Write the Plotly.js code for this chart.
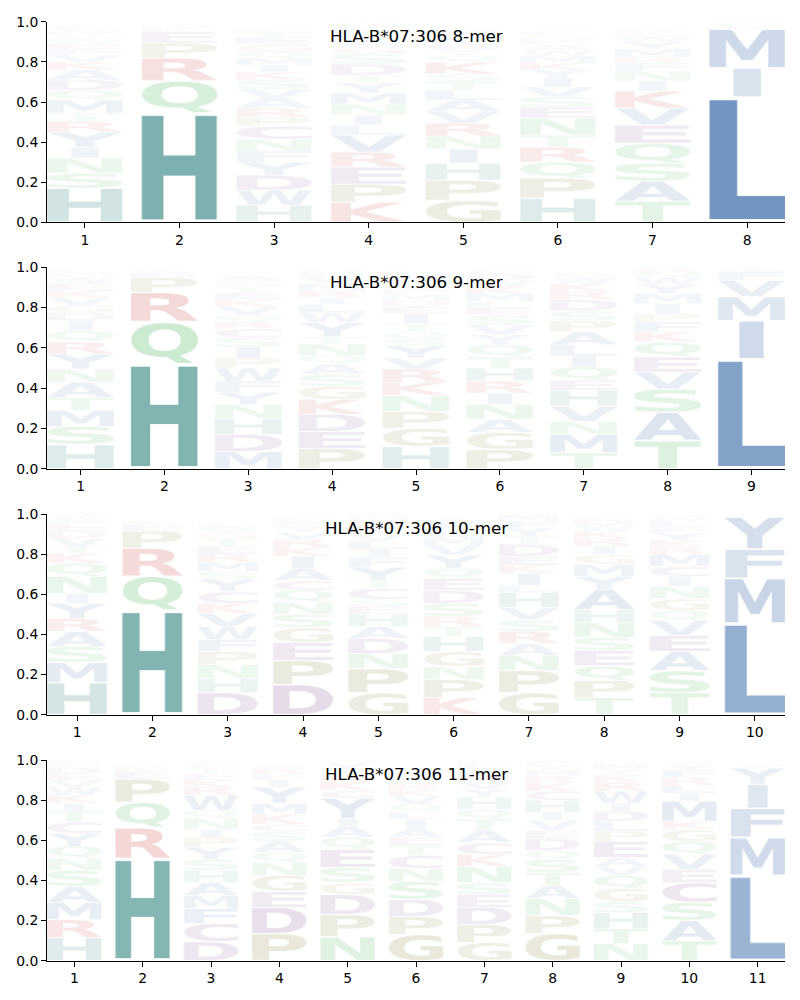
<!DOCTYPE html>
<html>
<head>
<meta charset="utf-8">
<script src="https://cdn.plot.ly/plotly-3.0.1.min.js"></script>
<style>
  body { margin: 0; background: #fff; }
  #logo { width: 800px; height: 1000px; }
</style>
</head>
<body>
<div id="logo"></div>
<script>
// letters of each column, bottom to top, with their heights
const letters8 = ["HSNIYRTMQDAKVFEWGPCL", "HQRPEKDS", "HWDYFNCPRAVSKIMQGETL", "KPERVLINMYTDSGAFQCHW",
                  "GPHINRVALTSKQYEMDFWC", "HPQRTNESVIYKMWAFDGC", "TASQEVKINFRMYWDG", "LIMVF"];
const heights8 = [
  [.17,.075,.075,.055,.075,.055,.04,.065,.05,.05,.05,.04,.035,.03,.025,.025,.02,.02,.015,.015],
  [.545,.16,.115,.075,.055,.02,.015,.01],
  [.085,.075,.075,.065,.055,.06,.065,.045,.045,.05,.045,.045,.04,.035,.035,.03,.04,.035,.025,.02],
  [.10,.09,.085,.075,.085,.05,.05,.055,.055,.05,.04,.055,.05,.035,.03,.025,.025,.02,.015,.01],
  [.11,.10,.085,.07,.065,.065,.06,.055,.05,.045,.035,.06,.035,.03,.025,.025,.02,.02,.015,.01],
  [.12,.10,.08,.075,.06,.085,.055,.05,.05,.045,.04,.035,.035,.03,.025,.02,.015,.015,.02],
  [.105,.10,.09,.10,.09,.085,.085,.05,.05,.04,.03,.04,.035,.025,.02,.02],
  [.625,.145,.195,.02,.015]
];

const letters9 = ["HSMTANYRQIDGVKEWCL", "HQRPEK", "MDHNYFWPISCRQVKETGA", "PEDKGSAQNTYWLIRMVFH",
                  "HGPNKRVYSQTIEDMFCWAL", "PGANIRHTQYVSELMKWDC", "TMNVHEQILAPSDRKWG", "TASVEQKFPIMYWNR", "LIMVFY"];
const heights9 = [
  [.12,.09,.08,.065,.075,.065,.075,.06,.055,.05,.04,.035,.04,.035,.035,.03,.02,.02],
  [.52,.21,.145,.075,.025,.015],
  [.085,.085,.08,.07,.06,.055,.065,.05,.055,.045,.045,.035,.035,.04,.035,.035,.03,.03,.025],
  [.1,.085,.085,.075,.065,.06,.05,.04,.06,.035,.07,.05,.04,.035,.035,.035,.03,.025,.015],
  [.11,.09,.085,.08,.065,.065,.055,.06,.035,.035,.04,.05,.035,.03,.03,.025,.02,.015,.03,.025],
  [.095,.085,.065,.075,.055,.06,.065,.055,.06,.05,.05,.05,.035,.03,.04,.035,.03,.03,.02],
  [.08,.09,.065,.075,.08,.05,.065,.055,.055,.065,.055,.05,.055,.04,.04,.03,.025],
  [.14,.14,.115,.085,.075,.075,.05,.05,.04,.05,.05,.045,.035,.025,.02],
  [.545,.19,.12,.08,.045,.02]
];

const letters10 = ["HMSARYINQKTVDEFWG", "HQRPEK", "DHNPFWVKCYSMRETGQL", "DPEGSNQCAIKRVYMF", "GPNDAHESCTYFILVKRWM",
                   "KPNGHTRSDEQYVMLFWI", "GPNARSVHLIKEDTYFMQ", "TPQESNHAYMGIRKWDF", "TSAEVQGNICMRKYFLWD", "LMFY"];
const heights10 = [
  [.16,.1,.08,.075,.065,.075,.05,.085,.065,.05,.035,.04,.035,.03,.025,.02,.015],
  [.52,.17,.14,.085,.03,.02],
  [.11,.07,.07,.065,.06,.065,.065,.05,.06,.06,.04,.045,.04,.04,.035,.03,.03,.02],
  [.15,.12,.09,.075,.065,.06,.06,.05,.06,.06,.045,.04,.035,.03,.025,.02],
  [.11,.12,.075,.075,.06,.06,.04,.035,.055,.04,.065,.05,.04,.04,.035,.035,.03,.02,.015],
  [.085,.09,.065,.075,.075,.05,.05,.065,.065,.06,.05,.065,.05,.04,.035,.03,.02,.015],
  [.11,.11,.075,.06,.06,.06,.06,.075,.035,.06,.04,.045,.06,.04,.04,.035,.03,.015],
  [.085,.085,.075,.075,.065,.075,.065,.1,.065,.06,.05,.04,.04,.035,.03,.025,.02],
  [.11,.11,.095,.08,.075,.05,.06,.06,.05,.05,.06,.035,.035,.035,.03,.03,.02,.015],
  [.455,.225,.145,.16]
];

const letters11 = ["HRMASNQYCTIKWVEDFL", "HRQPEKD", "DCFMAHSYPINQWRKETGV", "PDEGNQASCKMYIFRW", "NPDGSEQAIYCKRTVW",
                   "GPDSNCTEAILQVKRMYF", "GPDESNKCATQHYVRMLF", "GPNATSQDEVIHCKRMYF", "NTHSGQVAEPLDIWRKYM",
                   "TASCEVQGKMILRFYW", "LMFIYV"];
const heights11 = [
  [.115,.09,.085,.08,.08,.06,.06,.065,.055,.055,.04,.04,.04,.035,.03,.03,.02,.015],
  [.51,.155,.125,.115,.04,.02,.015],
  [.095,.09,.075,.065,.065,.06,.055,.06,.05,.04,.055,.04,.075,.04,.035,.03,.025,.02,.015],
  [.135,.13,.08,.08,.065,.05,.055,.05,.035,.05,.055,.08,.035,.03,.025,.02],
  [.12,.11,.1,.06,.075,.09,.06,.055,.04,.1,.04,.04,.035,.035,.03,.01],
  [.13,.09,.085,.09,.065,.065,.05,.04,.045,.045,.035,.04,.04,.035,.03,.03,.02,.015],
  [.09,.09,.085,.065,.06,.08,.06,.06,.06,.055,.05,.06,.04,.035,.035,.03,.025,.02],
  [.135,.09,.085,.065,.065,.065,.045,.06,.04,.05,.04,.06,.045,.04,.035,.03,.025,.02],
  [.085,.075,.08,.055,.065,.065,.045,.045,.08,.05,.05,.05,.04,.06,.045,.035,.03,.025],
  [.1,.1,.09,.1,.065,.075,.065,.06,.04,.1,.04,.04,.04,.035,.025,.015],
  [.425,.19,.145,.12,.08,.02]
];

const titles = ["HLA-B*07:306 8-mer", "HLA-B*07:306 9-mer", "HLA-B*07:306 10-mer", "HLA-B*07:306 11-mer"];

// letter colours (opacity follows the letter height)
const colorGroups = [
  ["H", "rgb(22,116,111)"],
  ["AFILMVWY", "rgb(33,88,156)"],
  ["NQST", "rgb(40,170,60)"],
  ["KR", "rgb(185,35,25)"],
  ["GP", "rgb(115,108,25)"],
  ["CDE", "rgb(110,50,130)"]
];
const colorOf = {};
colorGroups.forEach(g => g[0].split("").forEach(c => colorOf[c] = g[1]));
function alphaOf(h) {
  return Math.min(1, h + 0.25 * h * Math.pow(1 - h, 3));
}

const panels = [
  {letters: letters8, heights: heights8},
  {letters: letters9, heights: heights9},
  {letters: letters10, heights: heights10},
  {letters: letters11, heights: heights11}
];
const yDomains = [[0.786, 0.999], [0.5237, 0.738], [0.262, 0.4755], [0.0003, 0.2138]];
const plotW = 738, panelH = 200.7;
const glyphW = 0.8, vpad = 0.025;

// glyph ink boxes, measured once
const FONT = 'bold 200px "DejaVu Sans"';
const measureCtx = document.createElement("canvas").getContext("2d");
measureCtx.font = FONT;
const boxCache = {};
function glyphBox(ch) {
  if (!boxCache[ch]) {
    const m = measureCtx.measureText(ch);
    boxCache[ch] = {l: m.actualBoundingBoxLeft, r: m.actualBoundingBoxRight,
                    a: m.actualBoundingBoxAscent, d: m.actualBoundingBoxDescent};
  }
  return boxCache[ch];
}
// a glyph is never stretched wider than "E" would be
function widthFrac(ch) {
  const b = glyphBox(ch), e = glyphBox("E");
  return Math.min(1, (b.l + b.r) / (e.l + e.r));
}
function glyphSrc(ch, color, wpx, hpx) {
  const cv = document.createElement("canvas");
  cv.width = wpx; cv.height = hpx;
  const ctx = cv.getContext("2d");
  const b = glyphBox(ch);
  ctx.font = FONT;
  ctx.textBaseline = "alphabetic";
  ctx.textAlign = "left";
  ctx.setTransform(wpx / (b.l + b.r), 0, 0, hpx / (b.a + b.d), 0, 0);
  ctx.fillStyle = color;
  ctx.fillText(ch, b.l, b.a);
  return cv.toDataURL();
}

const traces = [];
const images = [];
const annotations = [];
const layout = {
  width: 800, height: 1000,
  margin: {l: 47, r: 15, t: 21, b: 39},
  paper_bgcolor: "#fff", plot_bgcolor: "#fff",
  showlegend: false,
  font: {family: "DejaVu Sans", size: 13.9, color: "#000"}
};

panels.forEach((p, k) => {
  const n = p.letters.length;
  const sfx = k === 0 ? "" : String(k + 1);
  const xa = "x" + sfx, ya = "y" + sfx;
  const positions = p.letters.map((_, i) => i + 1);
  const unitPx = plotW / (n - 0.2);

  const totals = p.heights.map(h => h.reduce((s, v) => s + v, 0));
  traces.push({
    type: "scatter", mode: "markers", x: positions, y: totals,
    xaxis: xa, yaxis: ya, marker: {opacity: 0}, hoverinfo: "skip"
  });

  p.letters.forEach((col, i) => {
    let base = 0;
    col.split("").forEach((ch, j) => {
      const h = p.heights[i][j];
      const gh = h * (1 - 2 * vpad);
      const gw = glyphW * widthFrac(ch);
      const wpx = Math.max(2, Math.round(gw * unitPx * 2));
      const hpx = Math.max(2, Math.round(gh * panelH * 2));
      images.push({
        source: glyphSrc(ch, colorOf[ch], wpx, hpx),
        xref: xa, yref: ya,
        x: positions[i], y: base + h * vpad,
        sizex: gw, sizey: gh,
        xanchor: "center", yanchor: "bottom",
        sizing: "stretch", opacity: alphaOf(h), layer: "above"
      });
      base += h;
    });
  });

  const axisStyle = {
    ticks: "outside", ticklen: 5, tickwidth: 1, tickcolor: "#000",
    showline: true, linecolor: "#000", linewidth: 1,
    showgrid: false, zeroline: false, fixedrange: true,
    tickfont: {family: "DejaVu Sans", size: 13.9, color: "#000"}
  };
  layout["xaxis" + sfx] = Object.assign({
    domain: [0, 1], anchor: ya, range: [0.6, n + 0.4],
    tickvals: positions, ticktext: positions.map(String)
  }, axisStyle);
  layout["yaxis" + sfx] = Object.assign({
    domain: yDomains[k], anchor: xa, range: [0, 1],
    tickvals: [0, 0.2, 0.4, 0.6, 0.8, 1.0], tickformat: ".1f"
  }, axisStyle);
  annotations.push({
    text: titles[k], xref: xa + " domain", yref: ya + " domain",
    x: 0.5, y: 0.929, xanchor: "center", yanchor: "middle", showarrow: false,
    font: {family: "DejaVu Sans", size: 16.7, color: "#000"}
  });
});

layout.images = images;
layout.annotations = annotations;

Plotly.newPlot("logo", traces, layout, {displayModeBar: false, staticPlot: true});
</script>
</body>
</html>
